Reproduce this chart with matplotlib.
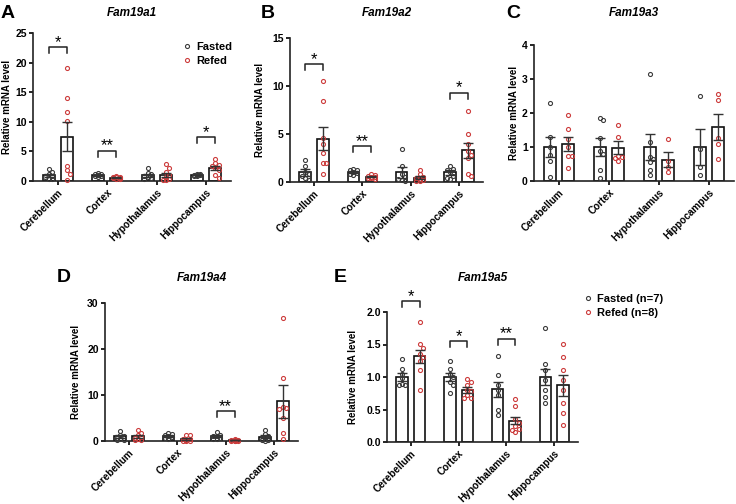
import numpy as np
import matplotlib
matplotlib.use("Agg")
import matplotlib.pyplot as plt
from matplotlib.lines import Line2D

plt.rcParams.update({"font.family": ["Liberation Sans", "DejaVu Sans"], "font.weight": "bold",
                     "axes.linewidth": 1.2, "xtick.major.width": 1.2, "ytick.major.width": 1.2,
                     "xtick.major.size": 3, "ytick.major.size": 3})

W, H = 736, 504
regions = ["Cerebellum", "Cortex", "Hypothalamus", "Hippocampus"]

# ---- Fam19a1 ----
a1_fasted = [[2.1, 1.5, 1.1, 0.8, 0.6, 0.4, 0.3],
             [1.3, 1.2, 1.1, 1.0, 0.9, 0.8, 0.7],
             [2.2, 1.3, 1.1, 0.9, 0.7, 0.5, 0.3],
             [1.2, 1.1, 1.05, 1.0, 0.95, 0.9, 0.8]]
a1_refed = [[19.1, 14.1, 11.6, 10.1, 2.6, 1.8, 1.2, 0.2],
            [0.8, 0.7, 0.65, 0.6, 0.5, 0.45, 0.4, 0.3],
            [2.8, 2.2, 1.6, 1.0, 0.6, 0.3, 0.2, 0.1],
            [3.8, 3.0, 2.7, 2.5, 2.2, 1.9, 1.0, 0.5]]
a1_mean_f = [1.0, 1.0, 1.0, 1.0]
a1_sem_f = [0.25, 0.08, 0.25, 0.05]
a1_mean_r = [7.5, 0.55, 1.05, 2.2]
a1_sem_r = [2.5, 0.06, 0.35, 0.35]
a1_sig = [(0, 22.6, "*"), (1, 5.1, "**"), (3, 7.4, "*")]

# ---- Fam19a2 ----
a2_fasted = [[2.3, 1.7, 1.0, 0.8, 0.6, 0.4, 0.2],
             [1.4, 1.3, 1.2, 1.0, 0.9, 0.8, 0.7],
             [3.4, 1.7, 0.8, 0.5, 0.3, 0.2, 0.1],
             [1.7, 1.4, 1.2, 1.0, 0.6, 0.4, 0.3]]
a2_refed = [[10.5, 8.4, 4.6, 4.0, 3.0, 2.0, 2.0, 0.8],
            [0.8, 0.7, 0.6, 0.55, 0.5, 0.45, 0.4, 0.35],
            [1.3, 0.8, 0.5, 0.4, 0.3, 0.2, 0.1, 0.1],
            [7.4, 5.0, 4.0, 3.2, 2.8, 2.5, 0.8, 0.6]]
a2_mean_f = [1.0, 1.05, 1.0, 1.0]
a2_sem_f = [0.35, 0.1, 0.6, 0.25]
a2_mean_r = [4.5, 0.55, 0.45, 3.3]
a2_sem_r = [1.2, 0.06, 0.15, 0.75]
a2_sig = [(0, 12.3, "*"), (1, 3.7, "**"), (3, 9.3, "*")]

# ---- Fam19a3 ----
a3_fasted = [[2.28, 1.29, 1.0, 0.75, 0.59, 0.12],
             [1.85, 1.8, 1.27, 0.88, 0.8, 0.31, 0.09],
             [3.14, 1.16, 0.7, 0.65, 0.56, 0.31, 0.17],
             [2.51, 0.95, 0.41, 0.17]]
a3_refed = [[1.95, 1.52, 1.24, 1.0, 0.73, 0.73, 0.38],
            [1.64, 1.29, 0.74, 0.7, 0.67, 0.59],
            [1.24, 0.6, 0.41, 0.26],
            [2.56, 2.38, 1.27, 1.1, 0.65]]
a3_mean_f = [1.0, 1.0, 1.0, 1.0]
a3_sem_f = [0.3, 0.27, 0.38, 0.53]
a3_mean_r = [1.08, 0.98, 0.62, 1.6]
a3_sem_r = [0.2, 0.2, 0.22, 0.38]
a3_sig = []

# ---- Fam19a4 ----
a4_fasted = [[2.2, 1.3, 1.0, 0.7, 0.5, 0.3, 0.2],
             [1.7, 1.5, 1.3, 1.1, 0.8, 0.6, 0.5],
             [2.0, 1.4, 1.1, 1.0, 0.6, 0.5, 0.4],
             [2.5, 1.5, 1.0, 0.5, 0.3, 0.2, 0.1]]
a4_refed = [[2.5, 1.8, 1.2, 0.9, 0.6, 0.5, 0.3, 0.2],
            [1.3, 1.2, 0.5, 0.4, 0.3, 0.1, 0.1, 0.1],
            [0.4, 0.3, 0.2, 0.2, 0.1, 0.1, 0.1, 0.05],
            [26.7, 13.7, 7.4, 7.2, 7.0, 4.9, 1.8, 0.5]]
a4_mean_f = [1.0, 1.05, 1.0, 0.9]
a4_sem_f = [0.3, 0.15, 0.2, 0.3]
a4_mean_r = [1.0, 0.5, 0.18, 8.6]
a4_sem_r = [0.3, 0.18, 0.05, 3.5]
a4_sig = [(2, 6.5, "**")]

# ---- Fam19a5 ----
a5_fasted = [[1.27, 1.12, 1.05, 0.98, 0.9, 0.88, 0.88],
             [1.25, 1.12, 1.05, 1.0, 0.92, 0.88, 0.75],
             [1.33, 1.03, 0.88, 0.8, 0.72, 0.5, 0.41],
             [1.76, 1.2, 1.1, 0.95, 0.8, 0.7, 0.6]]
a5_refed = [[1.85, 1.5, 1.45, 1.35, 1.3, 1.25, 1.1, 0.8],
            [0.97, 0.92, 0.88, 0.8, 0.78, 0.72, 0.68, 0.67],
            [0.66, 0.55, 0.35, 0.3, 0.25, 0.2, 0.18, 0.15],
            [1.5, 1.3, 1.1, 0.95, 0.8, 0.6, 0.45, 0.26]]
a5_mean_f = [1.0, 1.0, 0.81, 1.0]
a5_sem_f = [0.06, 0.06, 0.12, 0.13]
a5_mean_r = [1.32, 0.8, 0.33, 0.87]
a5_sem_r = [0.1, 0.04, 0.06, 0.16]
a5_sig = [(0, 2.17, "*"), (1, 1.55, "*"), (2, 1.59, "**")]

FCOL, RCOL = "#3a3a3a", "#cc3b3b"
BW, OFF = 0.24, 0.185
MS = 2.9

fig = plt.figure(figsize=(W / 100, H / 100), dpi=100)


def make_ax(l, r, t, b):
    return fig.add_axes([l / W, 1 - b / H, (r - l) / W, (b - t) / H])


def swarm(ax, cx, vals, color, halfw):
    # spread overlapping points sideways inside the bar (pixel space), no randomness
    d = 4.0
    placed = []
    cands = [0, 1, -1, 2, -2, 3, -3]
    for v in sorted(vals, reverse=True):
        px, py = ax.transData.transform((cx, v))
        best, bestd = px, -1
        for k in cands:
            x = px + k * d * 0.85
            if abs(x - px) > halfw:
                continue
            md = min([np.hypot(x - a, py - b) for a, b in placed] or [99])
            if md >= d:
                best = x
                break
            if md > bestd:
                best, bestd = x, md
        placed.append((best, py))
        xd, yd = ax.transData.inverted().transform((best, py))
        ax.plot(xd, yd, "o", ms=MS, mfc="none", mec=color, mew=0.8, zorder=5, clip_on=False)


def panel(box, letter, letter_xy, title, fasted, refed, mf, sf, mr, sr, sig, ymax, yticks, fmt, ylab_dx):
    l, r, t, b = box
    ax = make_ax(l, r, t, b)
    x = np.arange(len(regions))
    ax.set_xlim(-0.5, 3.5)
    ax.set_ylim(0, ymax)
    ax.bar(x - OFF, mf, BW, color="white", edgecolor="#111", lw=1.2, zorder=2)
    ax.bar(x + OFF, mr, BW, color="white", edgecolor="#111", lw=1.2, zorder=2)
    halfw = BW / 2 * (r - l) / 4.0 - 1
    for i in range(len(regions)):
        swarm(ax, x[i] - OFF, fasted[i], FCOL, halfw)
        swarm(ax, x[i] + OFF, refed[i], RCOL, halfw)
    ax.errorbar(x - OFF, mf, yerr=sf, fmt="none", ecolor="#333", elinewidth=1.0, capsize=3.5, capthick=1.0, zorder=6)
    ax.errorbar(x + OFF, mr, yerr=sr, fmt="none", ecolor="#333", elinewidth=1.0, capsize=3.5, capthick=1.0, zorder=6)
    ax.set_xticks(x)
    ax.set_xticklabels(regions, rotation=45, ha="right", rotation_mode="anchor", fontsize=7.2, fontweight="bold")
    ax.set_yticks(yticks)
    ax.set_yticklabels([fmt.format(v) for v in yticks], fontsize=7.5, fontweight="bold")
    ax.tick_params(axis="x", pad=1.5)
    ax.tick_params(axis="y", pad=1.5)
    for s in ["top", "right"]:
        ax.spines[s].set_visible(False)
    for s in ["left", "bottom"]:
        ax.spines[s].set_color("#222")
    ax.set_ylabel("Relative mRNA level", fontsize=7, fontweight="bold")
    ax.yaxis.set_label_coords(-ylab_dx / (r - l), 0.5)
    leg = 6 / (b - t) * ymax
    for i, yb, s in sig:
        ax.plot([i - OFF, i - OFF, i + OFF, i + OFF], [yb - leg, yb, yb, yb - leg], color="#222", lw=1.1, clip_on=False, zorder=7)
        ax.annotate(s, (i, yb), xytext=(0, -2), textcoords="offset points", ha="center", va="bottom",
                    fontsize=12, fontweight="normal", annotation_clip=False)
    fig.text(letter_xy[0] / W, 1 - letter_xy[1] / H, letter, fontsize=14, fontweight="bold", ha="center", va="center")
    fig.text((l + r) / 2 / W, 1 - letter_xy[1] / H, title, fontsize=8.5, fontweight="bold", style="italic", ha="center", va="center")
    return ax


axA = panel((33, 231, 33, 181), "A", (8, 13), "Fam19a1", a1_fasted, a1_refed, a1_mean_f, a1_sem_f, a1_mean_r, a1_sem_r,
            a1_sig, 25, [0, 5, 10, 15, 20, 25], "{:g}", 21)
axB = panel((290, 483, 38, 182), "B", (268, 13), "Fam19a2", a2_fasted, a2_refed, a2_mean_f, a2_sem_f, a2_mean_r, a2_sem_r,
            a2_sig, 15, [0, 5, 10, 15], "{:g}", 25)
axC = panel((534, 734, 45, 181), "C", (513, 13), "Fam19a3", a3_fasted, a3_refed, a3_mean_f, a3_sem_f, a3_mean_r, a3_sem_r,
            a3_sig, 4, [0, 1, 2, 3, 4], "{:g}", 15)
axD = panel((105, 298, 303, 441), "D", (64, 278), "Fam19a4", a4_fasted, a4_refed, a4_mean_f, a4_sem_f, a4_mean_r, a4_sem_r,
            a4_sig, 30, [0, 10, 20, 30], "{:g}", 24)
axE = panel((387, 578, 312, 442), "E", (340, 278), "Fam19a5", a5_fasted, a5_refed, a5_mean_f, a5_sem_f, a5_mean_r, a5_sem_r,
            a5_sig, 2.0, [0, 0.5, 1.0, 1.5, 2.0], "{:.1f}", 29)


def legend(labels, x, y):
    h = [Line2D([], [], ls="none", marker="o", ms=MS, mfc="none", mec=c, mew=0.8) for c in (FCOL, RCOL)]
    fig.legend(h, labels, loc="upper left", bbox_to_anchor=(x / W, 1 - y / H), frameon=False,
               prop={"size": 8, "weight": "bold"}, handlelength=0.6, handletextpad=0.5,
               labelspacing=0.35, borderpad=0, borderaxespad=0)


legend(["Fasted", "Refed"], 184, 42)
legend(["Fasted (n=7)", "Refed (n=8)"], 585, 294)

fig.savefig("out.png", dpi=100)
